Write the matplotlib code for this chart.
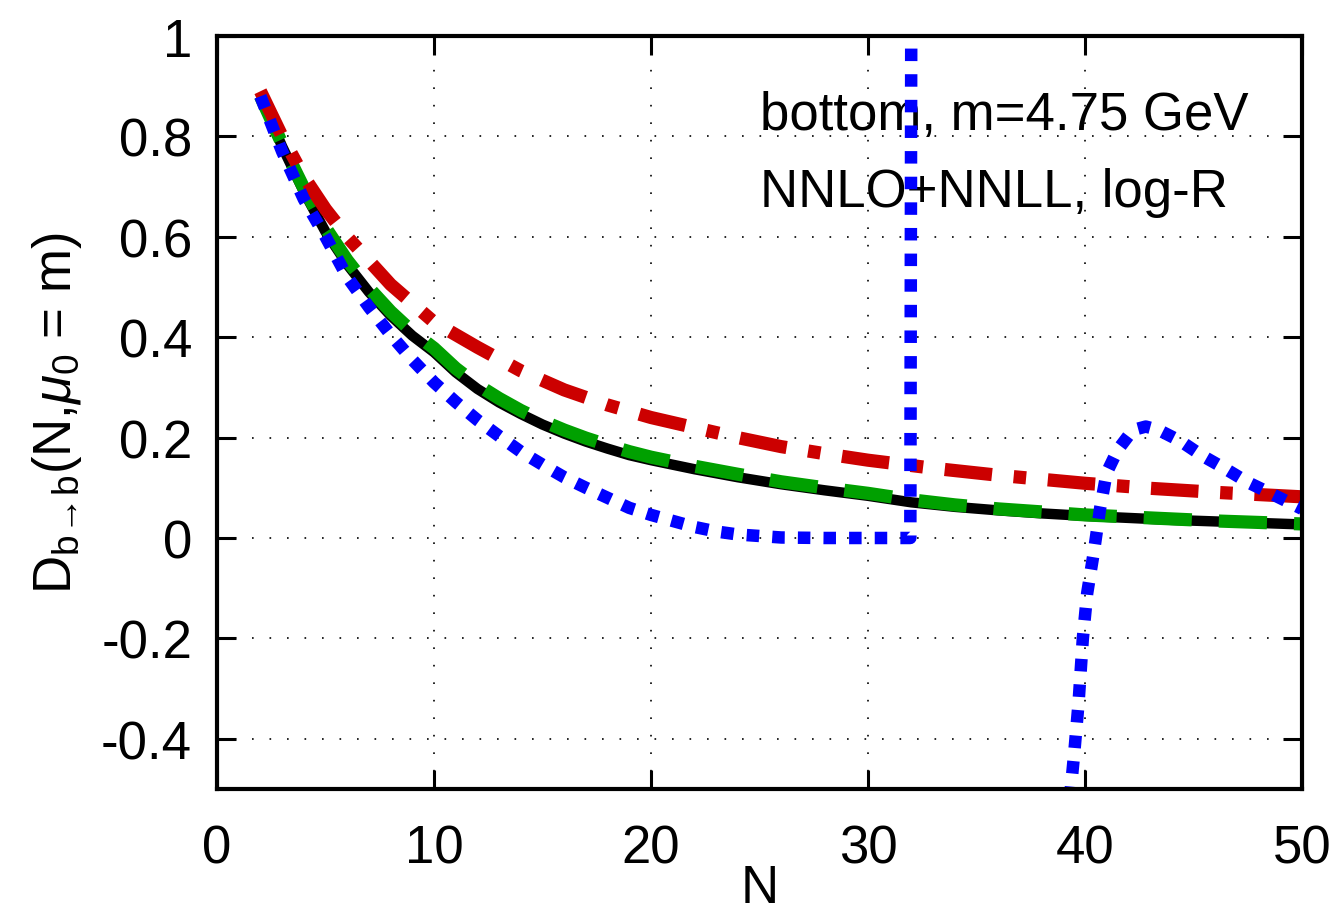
import matplotlib.pyplot as plt
import numpy as np

plt.rcParams['font.family'] = ['Liberation Sans', 'DejaVu Sans']
plt.rcParams['mathtext.fontset'] = 'custom'
plt.rcParams['mathtext.rm'] = 'Liberation Sans'
plt.rcParams['mathtext.it'] = 'Liberation Sans:italic'

# black solid curve
n_black = [2, 2.5, 3, 3.5, 4, 4.5, 5, 6, 7, 8, 9, 10, 11, 12, 13, 14, 15, 16, 17, 18, 19, 20, 21, 22,
           24, 26, 28, 30, 32, 34, 36, 38, 40, 42, 44, 46, 48, 50]
d_black = [0.88, 0.83, 0.78, 0.735, 0.69, 0.65, 0.61, 0.545, 0.49, 0.443, 0.403, 0.37, 0.33, 0.297,
           0.27, 0.247, 0.226, 0.208, 0.192, 0.178, 0.165, 0.155, 0.146, 0.137,
           0.121, 0.107, 0.095, 0.084, 0.071, 0.062, 0.055, 0.049, 0.044, 0.040, 0.036, 0.033, 0.030, 0.027]

# green dashed curve
n_green = [2, 3, 4, 5, 6, 7, 8, 9, 10, 11, 12, 13, 14, 15, 16, 17, 18, 19, 20, 21, 22,
           24, 26, 28, 30, 32, 34, 36, 38, 40, 42, 44, 46, 48, 50]
d_green = [0.88, 0.785, 0.697, 0.618, 0.553, 0.498, 0.451, 0.411, 0.378, 0.338, 0.305, 0.278, 0.254,
           0.233, 0.215, 0.199, 0.185, 0.172, 0.161, 0.152, 0.143,
           0.127, 0.112, 0.100, 0.089, 0.076, 0.066, 0.058, 0.052, 0.046, 0.042, 0.038, 0.034, 0.031, 0.028]

# red dash-dot curve
n_red = [2, 3, 4, 5, 6, 8, 10, 12, 14, 16, 18, 20, 22, 24, 26, 28, 30, 33, 36, 38, 40, 43, 46, 50]
d_red = [0.89, 0.80, 0.72, 0.655, 0.60, 0.505, 0.43, 0.38, 0.333, 0.295, 0.265, 0.24, 0.22, 0.20,
         0.182, 0.168, 0.155, 0.139, 0.125, 0.117, 0.109, 0.099, 0.091, 0.082]

# blue dotted curve (pole near N=32, comes back from below near N=39)
n_blue = [2, 3, 4, 5, 6, 7, 8, 9, 10, 11, 12, 13, 14, 15, 16, 17, 18, 19, 20, 21, 22, 23, 24, 25, 26,
          28, 30, 31.5, 31.95, 32.0, np.nan,
          39.3, 39.5, 39.7, 39.9, 40.1, 40.4, 40.7, 41.0, 41.5, 42.2, 42.8, 43.4, 44.4, 45.4, 46.5,
          47.5, 48.6, 50]
d_blue = [0.88, 0.77, 0.675, 0.60, 0.52, 0.46, 0.405, 0.355, 0.31, 0.271, 0.235, 0.203, 0.172, 0.146,
          0.121, 0.100, 0.080, 0.060, 0.046, 0.034, 0.022, 0.013, 0.007, 0.004, 0.001,
          0.0, 0.0, 0.0, 0.0, 1.2, np.nan,
          -0.52, -0.43, -0.33, -0.2, -0.11, -0.03, 0.06, 0.13, 0.175, 0.215, 0.222, 0.215, 0.193, 0.164,
          0.137, 0.111, 0.088, 0.058]

xticks = [0, 10, 20, 30, 40, 50]
yticks = [-0.4, -0.2, 0, 0.2, 0.4, 0.6, 0.8, 1]

fig = plt.figure(figsize=(13.38, 9.12), dpi=100)
ax = fig.add_axes([0.1622, 0.1338, 0.8109, 0.8256])

ax.plot(n_black, d_black, color='black', lw=7.5, solid_capstyle='butt', solid_joinstyle='round', zorder=3)
ax.plot(n_green, d_green, color='#00a000', lw=9.5, linestyle=(0, (3.65, 2.05)), dash_capstyle='butt', zorder=4)
ax.plot(n_red, d_red, color='#cc0000', lw=9.5, linestyle=(0, (3.6, 1.65, 0.95, 1.65)), dash_capstyle='butt', zorder=5)
ax.plot(n_blue, d_blue, color='#0000ff', lw=9, linestyle=(0, (1.0, 1.05)), dash_capstyle='butt', zorder=6)

ax.set_xlim(0, 50)
ax.set_ylim(-0.5, 1)
ax.set_xticks(xticks)
ax.set_yticks(yticks)
ax.set_xticklabels([f'{t:g}' for t in xticks])
ax.set_yticklabels([f'{t:g}' for t in yticks])

ax.grid(True, color='black', lw=1.2, linestyle=(0, (1, 9.5)))
ax.tick_params(direction='in', length=14, width=2.2, labelsize=38, top=True, right=True)
ax.tick_params(axis='x', pad=25)
ax.tick_params(axis='y', pad=18)
for s in ax.spines.values():
    s.set_linewidth(3)
    s.set_zorder(10)

ax.set_xlabel('N', fontsize=38, labelpad=-8)
ax.set_ylabel(r'D$_{\mathrm{b}\!\rightarrow\!\mathrm{b}}$(N,$\mu_0$ = m)', fontsize=38, labelpad=12)

ax.text(25.0, 0.815, 'bottom, m=4.75 GeV', fontsize=38, ha='left', va='baseline', zorder=2)
ax.text(25.0, 0.661, 'NNLO+NNLL, log-R', fontsize=38, ha='left', va='baseline', zorder=2)

fig.savefig('out.png', dpi=100)
